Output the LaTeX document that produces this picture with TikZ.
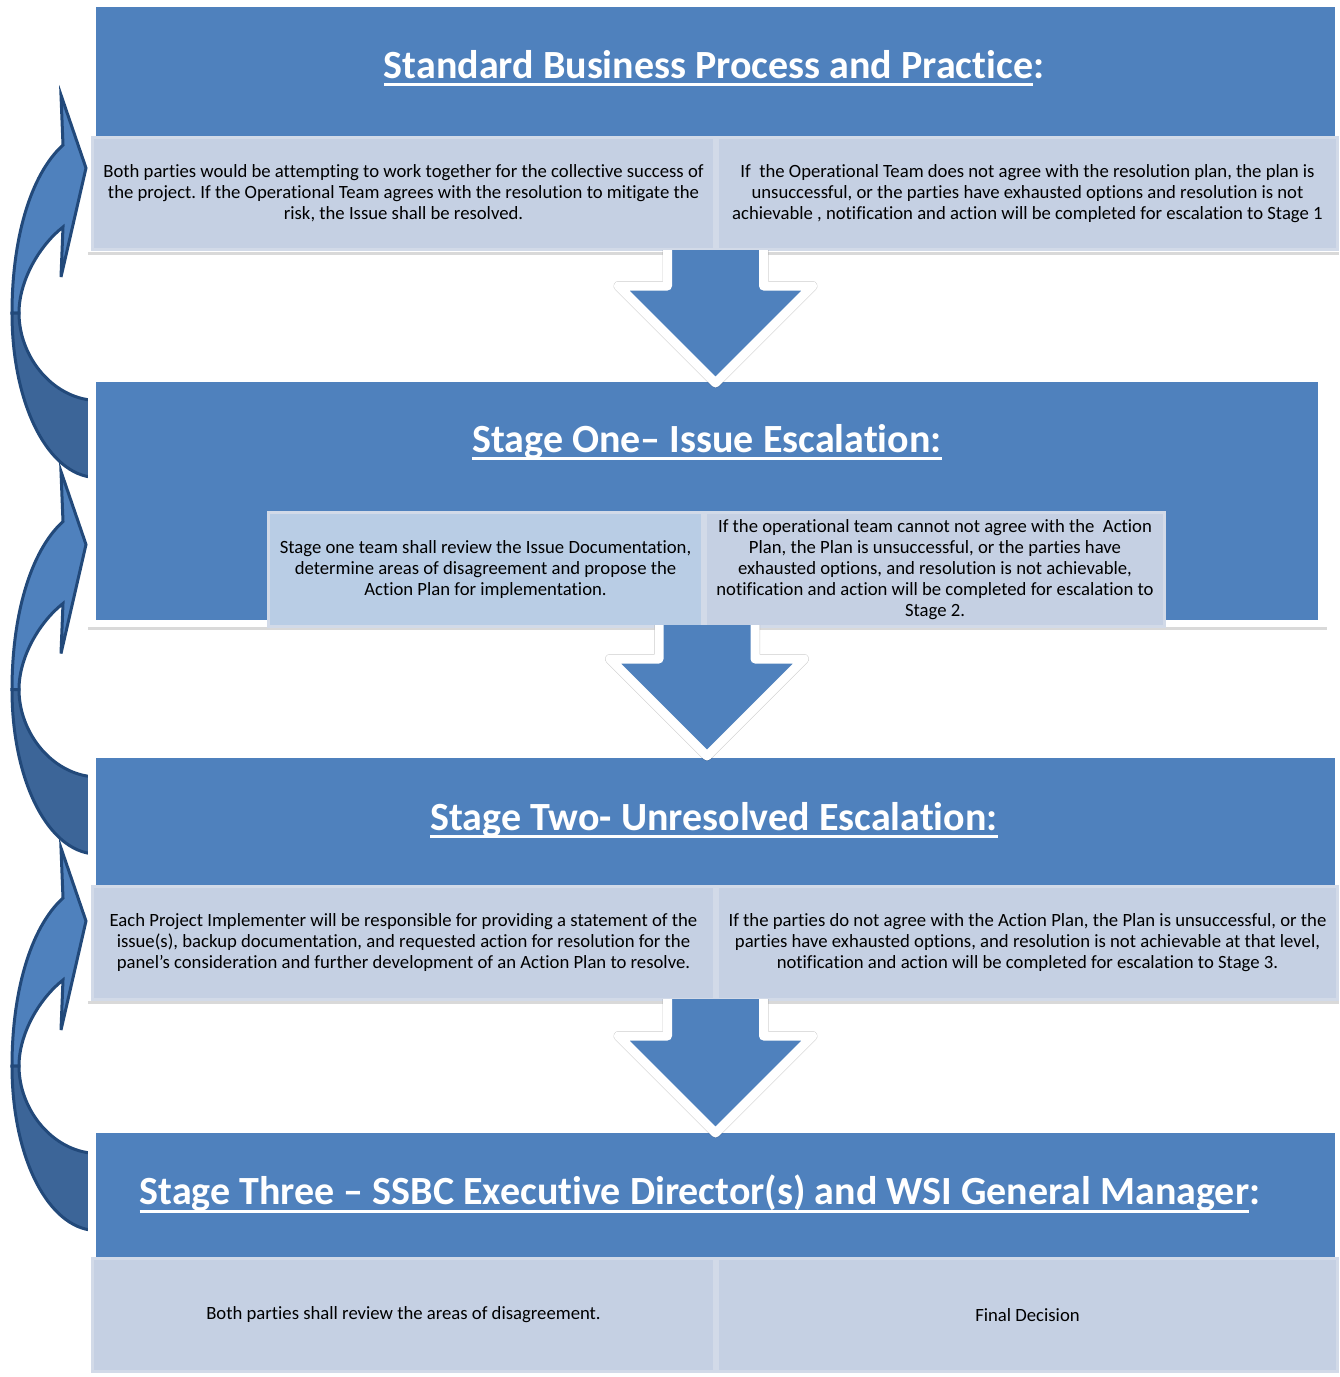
\documentclass[tikz,border=0pt]{standalone}
\usepackage{fontspec}
\setmainfont{Carlito}[Ligatures={NoCommon,NoContextual}]
\usepackage{tikz}
\usetikzlibrary{calc,shadows,backgrounds}

\definecolor{stageblue}{HTML}{4F81BD}
\definecolor{cellgray}{HTML}{C5D0E3}
\definecolor{cellblue}{HTML}{B9CDE5}
\definecolor{celledge}{HTML}{D2DAE8}
\definecolor{loopdark}{HTML}{3C6598}
\definecolor{loopline}{HTML}{22497A}

\newcommand\stageul[1]{\setbox0\hbox{#1}\rlap{\rule[-8pt]{\wd0}{3pt}}\box0}

\newcommand\downblock[2]{%
\draw[black,opacity=.2,line width=10pt,line join=round,shift={(3,4)}]
  ($(#1)+(-48,0)$) -- ($(#2)+(-48,-97)$) -- ($(#2)+(-97,-97)$) -- (#2)
  -- ($(#2)+(97,-97)$) -- ($(#2)+(48,-97)$) -- ($(#1)+(48,0)$);
\fill[stageblue]
  ($(#1)+(-48,0)$) -- ($(#2)+(-48,-97)$) -- ($(#2)+(-97,-97)$) -- (#2)
  -- ($(#2)+(97,-97)$) -- ($(#2)+(48,-97)$) -- ($(#1)+(48,0)$) -- cycle;
\draw[white,line width=9pt,line join=round]
  ($(#1)+(-48,0)$) -- ($(#2)+(-48,-97)$) -- ($(#2)+(-97,-97)$) -- (#2)
  -- ($(#2)+(97,-97)$) -- ($(#2)+(48,-97)$) -- ($(#1)+(48,0)$);
}

\begin{document}
\frenchspacing
\begin{tikzpicture}[x=1pt,y=-1pt,
  frame/.style={fill=white,inner sep=0,outer sep=0,anchor=north west,
    drop shadow={shadow xshift=0pt,shadow yshift=-3pt,opacity=.3}},
  band/.style={fill=stageblue,inner sep=0,outer sep=0,anchor=north west},
  title/.style={text=white,font=\fontsize{40}{46}\selectfont\bfseries},
  cell/.style={fill=cellgray,draw=celledge,line width=3pt,inner sep=0,
    anchor=north west,align=center,font=\fontsize{18.7}{21}\selectfont}]
\useasboundingbox (0,0) rectangle (1340,1377);

% standard business process
\node[frame,minimum width=1251pt,minimum height=252pt] (s0frame) at (88,0) {};
\node[band,minimum width=1239pt,minimum height=239pt] (s0blue) at (96,7) {};
\node[title] (s0title) at (714,68) {\stageul{Standard Business Process and Practice}:};
\node[cell,minimum width=622pt,minimum height=112pt] (s0left) at (91,136)
  {Both parties would be attempting to work together for the collective success of\\
   the project. If the Operational Team agrees with the resolution to mitigate the\\
   risk, the Issue shall be resolved.};
\node[cell,minimum width=620pt,minimum height=112pt] (s0right) at (716,136)
  {If\ \ the Operational Team does not agree with the resolution plan, the plan is\\
   unsuccessful, or the parties have exhausted options and resolution is not\\
   achievable , notification and action will be completed for escalation to Stage 1};

% stage one
\node[frame,minimum width=1239pt,minimum height=252pt] (s1frame) at (88,375) {};
\node[band,minimum width=1222pt,minimum height=238pt] (s1blue) at (96,382) {};
\node[title] (s1title) at (707,442) {\stageul{Stage One– Issue Escalation:}};
\node[cell,fill=cellblue,minimum width=434pt,minimum height=114pt] (s1left) at (267,511)
  {Stage one team shall review the Issue Documentation,\\
   determine areas of disagreement and propose the\\
   Action Plan for implementation.};
\node[cell,minimum width=459pt,minimum height=114pt] (s1right) at (704,511)
  {If the operational team cannot not agree with the\ \ Action\\
   Plan, the Plan is unsuccessful, or the parties have\\
   exhausted options, and resolution is not achievable,\\
   notification and action will be completed for escalation to\\
   Stage 2.};

% stage two
\node[frame,minimum width=1251pt,minimum height=249pt] (s2frame) at (88,752) {};
\node[band,minimum width=1239pt,minimum height=237pt] (s2blue) at (96,758) {};
\node[title] (s2title) at (714,820) {\stageul{Stage Two- Unresolved Escalation:}};
\node[cell,minimum width=622pt,minimum height=113pt] (s2left) at (91,885)
  {Each Project Implementer will be responsible for providing a statement of the\\
   issue(s), backup documentation, and requested action for resolution for the\\
   panel’s consideration and further development of an Action Plan to resolve.};
\node[cell,minimum width=620pt,minimum height=113pt] (s2right) at (716,885)
  {If the parties do not agree with the Action Plan, the Plan is unsuccessful, or the\\
   parties have exhausted options, and resolution is not achievable at that level,\\
   notification and action will be completed for escalation to Stage 3.};

% stage three
\node[frame,minimum width=1251pt,minimum height=249pt] (s3frame) at (88,1128) {};
\node[band,minimum width=1239pt,minimum height=239pt] (s3blue) at (96,1133) {};
\node[title] (s3title) at (700,1194) {\stageul{Stage Three – SSBC Executive Director(s) and WSI General Manager}:};
\node[cell,minimum width=622pt,minimum height=113pt] (s3left) at (91,1257)
  {Both parties shall review the areas of disagreement.};
\node[cell,minimum width=620pt,minimum height=113pt] (s3right) at (716,1257)
  {Final Decision};

% arrows down
\downblock{$(s0frame.south -| s0blue.south)+(0,-2)$}{$(s1blue.north -| s0blue.south)+(0,1)$}
\downblock{$(s1frame.south -| s1blue.south)+(0,-2)$}{$(s2blue.north -| s1blue.south)+(0,-2)$}
\downblock{$(s2frame.south -| s2blue.south)+(0,-2)$}{$(s3blue.north -| s2blue.south)+(0,0)$}

% loop arrows on the left
\begin{scope}[on background layer]
\foreach \dy in {0,376.5,753} {
  \begin{scope}[shift={(0,\dy)}]
  \filldraw[fill=stageblue,draw=loopline,line width=3pt,line join=miter]
    (63,145) -- (61,95) -- (86,168) -- (61,277) -- (63,227)
    .. controls (40,245) and (19,280) .. (19,313) -- (12,313)
    .. controls (12,240) and (30,175) .. (63,145) -- cycle;
  \filldraw[fill=loopdark,draw=loopline,line width=3pt]
    (12,313) .. controls (12,400) and (45,470) .. (90,477)
    -- (90,400) .. controls (50,395) and (19,355) .. (19,313) -- cycle;
  \end{scope}
}
\end{scope}
\end{tikzpicture}
\end{document}
